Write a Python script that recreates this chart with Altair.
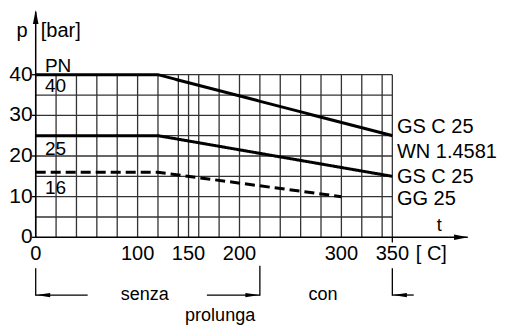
import altair as alt
import pandas as pd

# ---- data ----
series = ["PN40", "PN40", "PN40", "PN25", "PN25", "PN25", "PN16", "PN16", "PN16"]
temps = [0, 120, 350, 0, 120, 350, 0, 120, 300]
press = [40, 40, 25, 25, 25, 15, 16, 16, 10]
styles = ["solid"] * 6 + ["dashed"] * 3

x_grid = [0, 20, 40, 60, 80, 100, 120, 140, 150, 160, 180, 200, 220, 240, 260,
          280, 300, 320, 340, 350]
y_grid = [5, 10, 15, 20, 25, 30, 35, 40]
x_tick_labels = [0, 100, 150, 200, 300, 350]
y_tick_labels = [0, 10, 20, 30, 40]

curve_label_text = ["GS C 25", "WN 1.4581", "GS C 25", "GG 25"]
curve_label_y = [25.6, 19.5, 13.3, 7.95]
pn_text = ["PN", "40", "25", "16"]
pn_y = [40.7, 35.7, 20.3, 10.7]

FONT = "Liberation Sans"
xs = alt.Scale(domain=[-27.19, 453.7], nice=False, zero=False)
ys = alt.Scale(domain=[-21.57, 56.41], nice=False, zero=False)


def X(f):
    return alt.X(f, type="quantitative", scale=xs, axis=None)


def Y(f):
    return alt.Y(f, type="quantitative", scale=ys, axis=None)


GRID = "#333333"

vgrid = alt.Chart(pd.DataFrame({"x": x_grid, "y0": 0, "y1": 40})).mark_rule(
    color=GRID, strokeWidth=1.3).encode(x=X("x"), y=Y("y0"), y2="y1")
hgrid = alt.Chart(pd.DataFrame({"y": y_grid, "x0": 0, "x1": 350})).mark_rule(
    color=GRID, strokeWidth=1.3).encode(y=Y("y"), x=X("x0"), x2="x1")

# axes lines
axes_df = pd.DataFrame({"x0": [0, 0], "x1": [0, 424], "y0": [0, 0], "y1": [55.5, 0]})
axes = alt.Chart(axes_df).mark_rule(color="black", strokeWidth=1.5).encode(
    x=X("x0"), x2="x1", y=Y("y0"), y2="y1")

yticks = alt.Chart(pd.DataFrame({"y": y_tick_labels, "x0": -3.6, "x1": 0})).mark_rule(
    color="black", strokeWidth=1.3).encode(y=Y("y"), x=X("x0"), x2="x1")
xtick = alt.Chart(pd.DataFrame({"x": [350], "y0": [0], "y1": [-1.3]})).mark_rule(
    color="black", strokeWidth=1.3).encode(x=X("x"), y=Y("y0"), y2="y1")

# arrow heads
up_path = "M0,0L-0.4,2L0.4,2Z"
right_path = "M0,0L-2,-0.4L-2,0.4Z"
small_right = "M0,0L-2,-0.3L-2,0.3Z"
left_path = "M0,0L2,-0.3L2,0.3Z"
arrow_up = alt.Chart(pd.DataFrame({"x": [0], "y": [55.9]})).mark_point(
    shape=up_path, filled=True, color="black", size=196, opacity=1, strokeWidth=0).encode(
    x=X("x"), y=Y("y"))
arrow_right = alt.Chart(pd.DataFrame({"x": [424.3], "y": [0]})).mark_point(
    shape=right_path, filled=True, color="black", size=196, opacity=1, strokeWidth=0).encode(
    x=X("x"), y=Y("y"))

# curves
curves = alt.Chart(pd.DataFrame({"t": temps, "p": press, "s": series, "st": styles})).mark_line(
    color="black", strokeWidth=3).encode(
    x=X("t"), y=Y("p"), detail="s:N",
    strokeDash=alt.StrokeDash("st:N", scale=alt.Scale(domain=["solid", "dashed"],
                                                      range=[[1, 0], [10, 5]]), legend=None))

# tick labels
xlab = alt.Chart(pd.DataFrame({"x": x_tick_labels, "y": -5.6,
                               "t": [str(v) for v in x_tick_labels]})).mark_text(
    font=FONT, fontSize=20, baseline="alphabetic", align="center", color="black").encode(
    x=X("x"), y=Y("y"), text="t:N")
ylab = alt.Chart(pd.DataFrame({"x": -3.0, "y": y_tick_labels,
                               "t": [str(v) for v in y_tick_labels]})).mark_text(
    font=FONT, fontSize=21, baseline="middle", align="right", color="black").encode(
    x=X("x"), y=Y("y"), text="t:N")

unit_x = alt.Chart(pd.DataFrame({"x": [373], "y": [-5.6], "t": ["[ C]"]})).mark_text(
    font=FONT, fontSize=20, baseline="alphabetic", align="left", color="black").encode(
    x=X("x"), y=Y("y"), text="t:N")
t_lab = alt.Chart(pd.DataFrame({"x": [396], "y": [1.5], "t": ["t"]})).mark_text(
    font=FONT, fontSize=18, baseline="alphabetic", align="center", color="black").encode(
    x=X("x"), y=Y("y"), text="t:N")
p_lab = alt.Chart(pd.DataFrame({"x": [-13.4], "y": [49.3], "t": ["p"]})).mark_text(
    font=FONT, fontSize=20, baseline="alphabetic", align="center", color="black").encode(
    x=X("x"), y=Y("y"), text="t:N")
bar_lab = alt.Chart(pd.DataFrame({"x": [5.0], "y": [49.3], "t": ["[bar]"]})).mark_text(
    font=FONT, fontSize=20, baseline="alphabetic", align="left", color="black").encode(
    x=X("x"), y=Y("y"), text="t:N")

pn_lab = alt.Chart(pd.DataFrame({"x": 9.0, "y": pn_y, "t": pn_text})).mark_text(
    font=FONT, fontSize=19, baseline="alphabetic", align="left", color="black").encode(
    x=X("x"), y=Y("y"), text="t:N")
curve_lab = alt.Chart(pd.DataFrame({"x": 354.5, "y": curve_label_y, "t": curve_label_text})).mark_text(
    font=FONT, fontSize=20, baseline="alphabetic", align="left", color="black").encode(
    x=X("x"), y=Y("y"), text="t:N")

# bottom range annotation
bl = alt.Chart(pd.DataFrame({"x": [0, 220, 350], "y0": [-7.6, -7.0, -7.6], "y1": -14.4})).mark_rule(
    color="black", strokeWidth=1.3).encode(x=X("x"), y=Y("y0"), y2="y1")
bh = alt.Chart(pd.DataFrame({"x0": [0, 168, 350], "x1": [51, 220, 371], "y": -14.2})).mark_rule(
    color="black", strokeWidth=1.3).encode(x=X("x0"), x2="x1", y=Y("y"))
ah_left = alt.Chart(pd.DataFrame({"x": [0.5, 350.5], "y": [-14.2, -14.2]})).mark_point(
    shape=left_path, filled=True, color="black", size=196, opacity=1, strokeWidth=0).encode(
    x=X("x"), y=Y("y"))
ah_right = alt.Chart(pd.DataFrame({"x": [219.5], "y": [-14.2]})).mark_point(
    shape=small_right, filled=True, color="black", size=196, opacity=1, strokeWidth=0).encode(
    x=X("x"), y=Y("y"))
btxt = alt.Chart(pd.DataFrame({"x": [107, 282, 181], "y": [-14.2, -14.2, -19.3],
                               "t": ["senza", "con", "prolunga"]})).mark_text(
    font=FONT, fontSize=18, baseline="middle", align="center", color="black").encode(
    x=X("x"), y=Y("y"), text="t:N")

chart = alt.layer(
    vgrid, hgrid, axes, yticks, xtick, arrow_up, arrow_right, curves,
    xlab, ylab, unit_x, t_lab, p_lab, bar_lab, pn_lab, curve_lab,
    bl, bh, ah_left, ah_right, btxt
).properties(
    width=490, height=317, padding=0,
    autosize=alt.AutoSizeParams(type="none")
).configure_view(stroke=None)

chart.save("out.html", embed_options={"renderer": "svg", "actions": False})
